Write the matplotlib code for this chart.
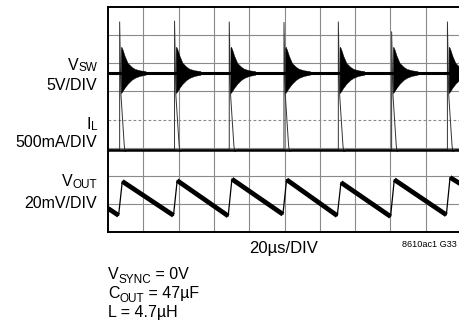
import matplotlib
matplotlib.use('Agg')
import matplotlib.pyplot as plt

edge_us = [6.6, 37.7, 68.7, 99.7, 130.5, 160.7, 192.3]

# V_SW trace (divisions from bottom)
vsw_base = 5.66
vsw_ring_dt = [0.7, 0.96, 1.70, 2.83, 4.53, 6.80, 8.50, 11.3, 14.7]
vsw_ring_top = [6.55, 6.59, 6.48, 6.26, 6.01, 5.87, 5.80, 5.75, 5.72]
vsw_ring_bot = [4.95, 4.95, 5.02, 5.13, 5.27, 5.41, 5.48, 5.55, 5.59]

# I_L trace
il_base = 2.92
il_peak = [7.47, 7.50, 7.47, 7.45, 7.47, 7.12, 7.47]
il_fall_dt = [0.74, 2.63, 3.14, 4.6]
il_fall_val = [4.88, 3.06, 2.86, 2.92]

# V_OUT trace
vout_start = 0.84
vout_top = [1.80, 1.83, 1.88, 1.86, 1.76, 1.86, 1.94]
vout_bot = [0.59, 0.59, 0.57, 0.63, 0.58, 0.55, 0.61]
vout_end = 1.70

W, H = 459, 326
plt.rcParams['font.family'] = ['Liberation Sans', 'DejaVu Sans']
fig = plt.figure(figsize=(W / 100, H / 100), dpi=100)
ax = fig.add_axes([108 / W, (H - 232) / H, 353 / W, 225 / H])
ax.set_xlim(0, 200)
ax.set_ylim(0, 8)
ax.set_xticks([])
ax.set_yticks([])
for s in ax.spines.values():
    s.set_linewidth(1.4)

# scope graticule
gcol = '#8a8a8a'
for x in range(20, 200, 20):
    ax.axvline(x, color=gcol, lw=0.8, zorder=1)
for y in [1, 2, 3, 5, 6, 7]:
    ax.axhline(y, color=gcol, lw=0.8, zorder=1)
ax.axhline(4, color=gcol, lw=0.8, ls=(0, (2.5, 2)), zorder=1)

# V_SW: baseline + ringing bursts
ax.plot([0, 200], [vsw_base, vsw_base], color='black', lw=2.2, zorder=3)
for t0 in edge_us:
    tt = [t0 + d for d in vsw_ring_dt]
    ax.fill_between(tt, vsw_ring_bot, vsw_ring_top, color='black', lw=0.3, zorder=3)

# I_L: thin current pulses + thick baseline
xs, ys = [0], [il_base]
for t0, pk in zip(edge_us, il_peak):
    xs += [t0, t0] + [t0 + d for d in il_fall_dt]
    ys += [il_base, pk] + il_fall_val
xs.append(200)
ys.append(il_base)
ax.plot(xs, ys, color='#333333', lw=0.7, zorder=2)
ax.plot([0, 200], [il_base, il_base], color='black', lw=1.8, zorder=3)

# V_OUT: thick ramps, thin rising edges
starts = [(0, vout_start)] + [(t0 + 1.5, v) for t0, v in zip(edge_us, vout_top)]
ends = [(t0 - 0.6, v) for t0, v in zip(edge_us, vout_bot)] + [(200, vout_end)]
for (x0, y0), (x1, y1) in zip(starts, ends):
    ax.plot([x0, x1], [y0, y1], color='black', lw=3.4, solid_capstyle='butt', zorder=3)
for t0, lo, hi in zip(edge_us, vout_bot, vout_top):
    ax.plot([t0 - 0.6, t0 + 1.5], [lo, hi], color='black', lw=0.9, zorder=3)

renderer = fig.canvas.get_renderer()


def ftext(px, py, s, size, ha='left'):
    return fig.text(px / W, 1 - py / H, s, fontsize=size, ha=ha, va='baseline')


def wid(t):
    return t.get_window_extent(renderer=renderer).width


def label_right(px, py, main, sub, size=11.5, subsize=8.5, drop=2):
    t = ftext(px, py + drop, sub, subsize, ha='right')
    ftext(px - wid(t), py, main, size, ha='right')


def note_left(px, py, main, sub, rest, size=11.5, subsize=8.5, drop=3.5):
    t1 = ftext(px, py, main, size)
    x = px + wid(t1)
    t2 = ftext(x, py + drop, sub, subsize)
    ftext(x + wid(t2), py, rest, size)


label_right(97.3, 69.5, 'V', 'SW')
ftext(97.3, 90, '5V/DIV', 11.5, ha='right')
label_right(97.3, 128.5, 'I', 'L')
ftext(97.3, 147.5, '500mA/DIV', 11.5, ha='right')
label_right(97.3, 185.7, 'V', 'OUT')
ftext(97.3, 207.7, '20mV/DIV', 11.5, ha='right')

ftext(284, 253, '20µs/DIV', 12, ha='center')
ftext(457, 247, '8610ac1 G33', 6.6, ha='right')

note_left(108, 279.3, 'V', 'SYNC', ' = 0V')
note_left(108, 298.3, 'C', 'OUT', ' = 47µF')
ftext(108, 317.3, 'L = 4.7µH', 11.5)

fig.savefig('out.png', dpi=100)
